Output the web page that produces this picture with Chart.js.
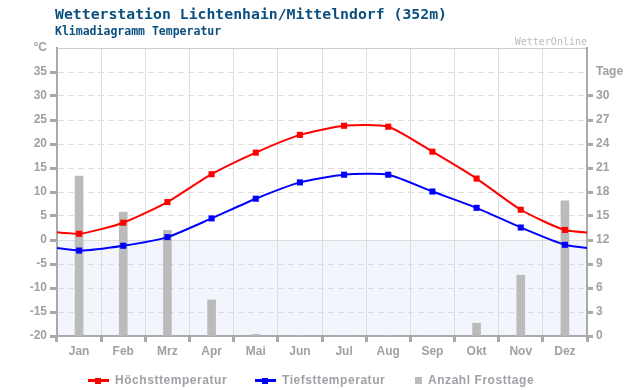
<!DOCTYPE html>
<html>
<head>
<meta charset="utf-8">
<script src="https://cdn.jsdelivr.net/npm/chart.js@4/dist/chart.umd.min.js"></script>
<style>
  body { margin: 0; background: #fff; }
  #wrap { position: relative; width: 640px; height: 390px; }
  #c { position: absolute; left: 0; top: 0; }
  .t { position: absolute; white-space: nowrap; }
  #title { left: 55px; top: 6px; font: bold 14.8px "DejaVu Sans Mono", monospace; color: #0b4f7f; line-height: 15px; }
  #sub { left: 55px; top: 25px; font: bold 11.5px "DejaVu Sans Mono", monospace; color: #0b4f7f; line-height: 12px; }
  #brand { right: 53px; top: 36px; font: 10px "DejaVu Sans Mono", monospace; color: #bbb; line-height: 11px; }
  #legend { left: 0; top: 373px; width: 640px; font: bold 12px "Liberation Sans", Arial, sans-serif; color: #a0a0a6; letter-spacing: 0.55px; }
  .item { position: absolute; top: 0; line-height: 14px; }
  .ln { position: absolute; top: 6px; width: 21px; height: 3px; }
  .sq { position: absolute; width: 6px; height: 6px; }
</style>
</head>
<body>
<div id="wrap">
  <canvas id="c" width="640" height="390"></canvas>
  <div class="t" id="title">Wetterstation Lichtenhain/Mittelndorf (352m)</div>
  <div class="t" id="sub">Klimadiagramm Temperatur</div>
  <div class="t" id="brand">WetterOnline</div>
  <div class="t" id="legend">
    <div class="item" style="left:88px">
      <span class="ln" style="left:0;background:#f00"></span>
      <span class="sq" style="left:7px;top:4.5px;background:#f00"></span>
      <span style="position:absolute;left:27px">Höchsttemperatur</span>
    </div>
    <div class="item" style="left:255px">
      <span class="ln" style="left:0;background:#00f"></span>
      <span class="sq" style="left:7px;top:4.5px;background:#00f"></span>
      <span style="position:absolute;left:27px">Tiefsttemperatur</span>
    </div>
    <div class="item" style="left:415px">
      <span class="sq" style="left:0;top:4px;width:7px;height:7px;background:#bbb"></span>
      <span style="position:absolute;left:13px">Anzahl Frosttage</span>
    </div>
  </div>
</div>
<script>
const months = ["Jan", "Feb", "Mrz", "Apr", "Mai", "Jun", "Jul", "Aug", "Sep", "Okt", "Nov", "Dez"];
const tmax = [1.3, 3.6, 7.9, 13.7, 18.2, 21.9, 23.8, 23.6, 18.4, 12.8, 6.3, 2.1];
const tmin = [-2.2, -1.2, 0.6, 4.5, 8.6, 12.0, 13.6, 13.6, 10.1, 6.7, 2.6, -1.0];
const frost = [20.0, 15.5, 13.2, 4.5, 0.2, 0, 0, 0, 0, 1.6, 7.6, 16.9];

const gray = "#aaa";
const labelFont = { family: "'Liberation Sans', Arial, sans-serif", size: 12, weight: "bold" };

// line continues past the plot edges to the neighbouring year's month (clipped)
const wrap = (arr) => [
    { x: -1, y: arr[arr.length - 1] },
    ...arr.map((v, i) => ({ x: i, y: v })),
    { x: arr.length, y: arr[0] },
];
const edgeRadius = (ctx) => (ctx.raw && (ctx.raw.x < 0 || ctx.raw.x > 11) ? 0 : 4.3);

// light shading below 0 °C
const frostZone = {
    id: "frostZone",
    beforeDraw(chart) {
        const { ctx, chartArea: a, scales } = chart;
        const y0 = scales.y.getPixelForValue(0);
        ctx.save();
        ctx.fillStyle = "#f2f5fb";
        ctx.fillRect(a.left, y0, a.right - a.left, a.bottom - y0);
        ctx.strokeStyle = "#ddd";
        ctx.lineWidth = 1;
        ctx.beginPath();
        ctx.moveTo(a.left, y0 + 0.5);
        ctx.lineTo(a.right, y0 + 0.5);
        ctx.stroke();
        ctx.restore();
    },
};

const lineStyle = {
    borderWidth: 2,
    pointStyle: "rect",
    pointRadius: edgeRadius,
    pointBorderWidth: 0,
    tension: 0.2,
    yAxisID: "y",
};

new Chart(document.getElementById("c"), {
    type: "line",
    data: {
        datasets: [
            {
                ...lineStyle,
                label: "Höchsttemperatur",
                data: wrap(tmax),
                borderColor: "#f00",
                backgroundColor: "#f00",
                order: 1,
            },
            {
                ...lineStyle,
                label: "Tiefsttemperatur",
                data: wrap(tmin),
                borderColor: "#00f",
                backgroundColor: "#00f",
                order: 2,
            },
            {
                type: "bar",
                label: "Anzahl Frosttage",
                data: frost.map((v, i) => ({ x: i, y: v })),
                backgroundColor: "#bbb",
                barThickness: 8,
                yAxisID: "y1",
                order: 3,
            },
        ],
    },
    options: {
        responsive: false,
        animation: false,
        layout: { padding: { top: 48, left: 0, right: 0, bottom: 0 } },
        plugins: { legend: { display: false }, tooltip: { enabled: false } },
        scales: {
            x: {
                type: "linear",
                position: "bottom",
                min: -0.5,
                max: 11.5,
                offset: false,
                afterBuildTicks: (s) => { s.ticks = months.map((m, i) => ({ value: i })); },
                afterFit: (s) => { s.height = 54; },
                ticks: { callback: (v) => months[v], color: "#a0a0a6", font: labelFont, padding: 2, maxRotation: 0 },
                grid: { drawOnChartArea: false, tickLength: 6, tickWidth: 3, tickColor: gray },
                border: { color: gray, width: 2 },
            },
            xg: {
                type: "linear",
                position: "top",
                min: -0.5,
                max: 11.5,
                offset: false,
                afterBuildTicks: (s) => { s.ticks = months.concat([""]).map((m, i) => ({ value: i - 0.5 })); },
                afterFit: (s) => { s.height = 0; },
                ticks: { display: false },
                grid: { color: "#ddd", drawTicks: false },
                border: { color: "#ccc", width: 1 },
            },
            y: {
                position: "left",
                min: -20,
                max: 40,
                afterFit: (s) => { s.width = 57; },
                ticks: {
                    stepSize: 5,
                    callback: (v) => (v === 40 ? "°C" : v),
                    color: "#a0a0a6",
                    font: labelFont,
                    padding: 3,
                },
                grid: {
                    color: "#ddd",
                    tickLength: 7,
                    tickWidth: 3,
                    tickColor: (ctx) => (ctx.tick && ctx.tick.value === 40 ? "rgba(0,0,0,0)" : gray),
                },
                border: { color: gray, width: 2, dash: [6, 4] },
            },
            y1: {
                position: "right",
                min: 0,
                max: 36,
                afterFit: (s) => { s.width = 53; },
                ticks: {
                    stepSize: 3,
                    callback: (v) => (v === 33 ? "Tage" : v === 36 ? "" : v),
                    color: "#a0a0a6",
                    font: labelFont,
                    padding: 3,
                },
                grid: {
                    drawOnChartArea: false,
                    tickLength: 6,
                    tickWidth: 3,
                    tickColor: (ctx) => (ctx.tick && ctx.tick.value >= 33 ? "rgba(0,0,0,0)" : gray),
                },
                border: { color: gray, width: 2 },
            },
        },
    },
    plugins: [frostZone],
});
</script>
</body>
</html>
